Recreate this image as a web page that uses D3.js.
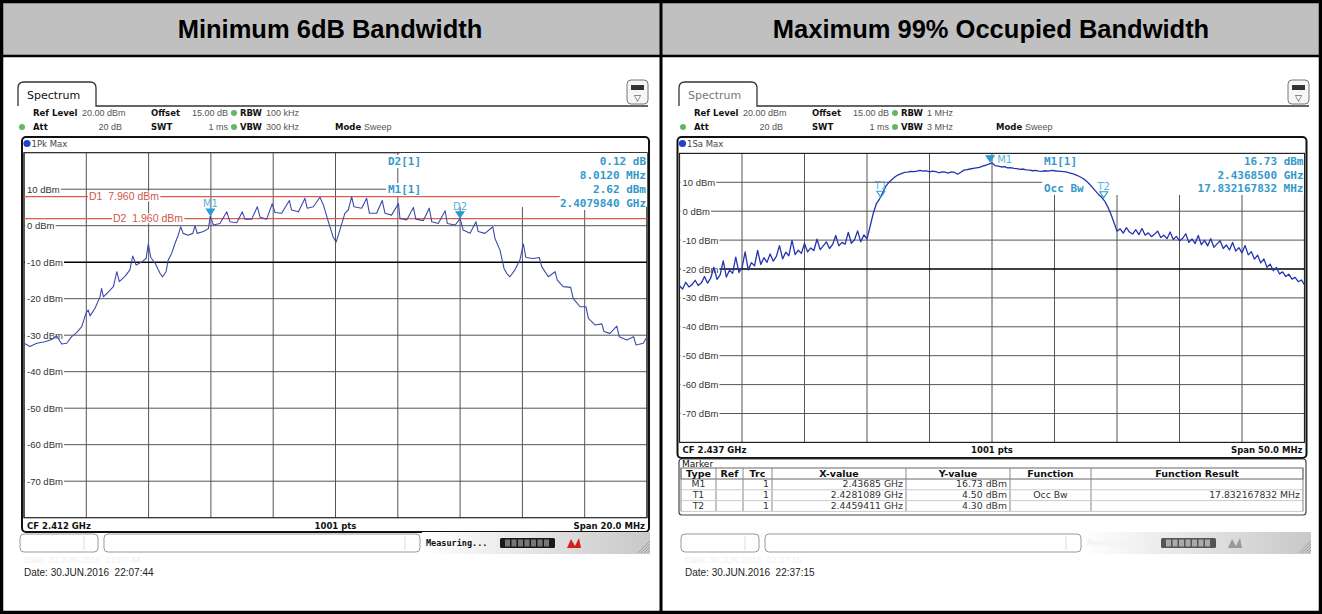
<!DOCTYPE html>
<html>
<head>
<meta charset="utf-8">
<script src="https://cdn.jsdelivr.net/npm/d3@7.9.0/dist/d3.min.js"></script>
<style>
  body { margin: 0; background: #fff; }
  svg text { font-family: "DejaVu Sans", sans-serif; }
</style>
</head>
<body>
<svg id="chart" width="1322" height="614"></svg>
<script>
// ---- values ----
const panelTitles = ["Minimum 6dB Bandwidth", "Maximum 99% Occupied Bandwidth"];

// left trace: 1Pk Max, CF 2.412 GHz, span 20 MHz (frequency in MHz, level in dBm)
const leftFreq = [
  2402.0,2402.19,2402.41,2402.67,2402.89,2403.05,2403.21,2403.37,2403.53,2403.69,
  2403.85,2403.99,2404.06,2404.12,2404.28,2404.44,2404.49,2404.55,2404.71,2404.87,
  2404.98,2405.06,2405.24,2405.40,2405.49,2405.60,2405.78,2405.92,2405.99,2406.07,
  2406.21,2406.37,2406.45,2406.56,2406.63,2406.74,2406.85,2406.95,2407.03,2407.11,
  2407.27,2407.42,2407.49,2407.56,2407.76,2407.92,2407.98,2408.08,2408.29,2408.51,
  2408.61,2408.83,2409.01,2409.09,2409.31,2409.49,2409.58,2409.79,2409.97,2410.06,
  2410.27,2410.52,2410.59,2410.81,2411.02,2411.09,2411.29,2411.50,2411.61,2411.77,
  2411.92,2412.02,2412.14,2412.30,2412.41,2412.52,2412.59,2412.84,2413.00,2413.09,
  2413.32,2413.50,2413.59,2413.80,2414.02,2414.07,2414.29,2414.50,2414.58,2414.82,
  2415.01,2415.09,2415.30,2415.52,2415.59,2415.84,2416.00,2416.10,2416.32,2416.51,
  2416.58,2416.80,2417.05,2417.12,2417.28,2417.41,2417.50,2417.60,2417.76,2417.92,
  2418.03,2418.11,2418.35,2418.54,2418.62,2418.83,2419.05,2419.12,2419.31,2419.55,
  2419.63,2419.85,2420.04,2420.12,2420.33,2420.55,2420.62,2420.81,2421.03,2421.11,
  2421.35,2421.57,2421.65,2421.88,2422.0
];
const leftLevel = [
  -32.2,-33.1,-32.2,-31.8,-31.2,-30.2,-32.4,-32.2,-30.4,-29.3,
  -27.7,-24.0,-23.1,-24.7,-22.6,-19.5,-17.2,-19.5,-18.1,-16.7,
  -12.6,-15.3,-13.9,-12.1,-8.3,-10.8,-9.9,-9.0,-5.0,-8.7,
  -10.3,-13.1,-14.0,-12.6,-9.4,-7.6,-4.8,-2.6,-0.3,-2.1,
  -2.6,-2.1,0.0,-2.1,-1.6,-0.8,2.62,0.2,0.6,3.8,
  1.1,0.8,3.8,1.8,1.8,5.2,2.3,1.8,6.0,3.6,
  3.4,6.9,4.3,3.8,7.5,4.8,5.2,7.8,5.7,1.1,
  -3.0,-4.5,-1.2,3.4,4.3,7.9,5.2,4.8,7.5,3.4,
  3.4,6.9,3.4,2.9,6.1,2.0,1.6,5.0,1.8,1.4,
  4.8,1.1,0.6,4.1,0.6,0.2,1.96,-1.2,-2.1,1.1,
  -1.6,-2.1,-0.3,-3.5,-6.7,-11.7,-13.1,-14.0,-12.1,-9.4,
  -5.0,-8.7,-9.0,-8.7,-11.2,-14.0,-12.6,-14.9,-16.7,-16.9,
  -19.9,-22.2,-22.2,-25.4,-27.2,-26.9,-29.0,-29.5,-27.5,-30.4,
  -31.3,-30.4,-32.7,-32.2,-30.4
];

// right trace: 1Sa Max, CF 2.437 GHz, span 50 MHz, read every 0.25 MHz from 2412 MHz
const rightStartMHz = 2412, rightStepMHz = 0.25;
const rightLevel = [
  -25.8,-26.9,-24.6,-26.2,-25.4,-23.9,-25.7,-24.8,-22.6,-24.9,
  -23.1,-19.4,-23.6,-22.0,-17.2,-22.8,-20.4,-21.5,-15.9,-21.2,
  -19.6,-14.1,-20.3,-17.8,-18.9,-13.6,-18.4,-16.1,-17.7,-14.8,
  -17.3,-15.6,-11.9,-16.5,-14.2,-15.4,-10.1,-15.0,-13.5,-14.6,
  -11.2,-14.1,-12.7,-13.6,-9.7,-13.3,-12.0,-10.6,-12.9,-11.5,
  -8.4,-12.0,-10.8,-11.4,-7.3,-11.1,-9.9,-6.8,-10.6,-8.2,
  -9.6,-5.2,-0.8,2.6,4.2,6.4,8.6,10.0,11.0,11.9,
  12.6,13.0,13.4,13.5,13.8,13.7,13.9,14.1,13.9,14.0,
  13.6,13.9,13.7,13.3,13.6,13.5,13.2,13.6,13.4,12.8,
  13.5,14.2,14.4,14.6,14.8,15.0,15.2,15.6,15.9,16.3,
  16.7,15.8,15.6,15.3,15.4,15.0,15.1,14.8,14.7,14.5,
  14.6,14.3,14.2,14.0,14.1,13.9,13.8,14.0,13.9,14.1,
  14.0,13.9,13.8,13.7,13.5,13.2,12.9,12.5,12.0,11.4,
  10.6,9.6,8.4,7.1,5.9,4.9,3.6,1.6,-0.9,-3.8,
  -6.9,-6.1,-7.6,-5.7,-7.2,-7.9,-6.4,-8.1,-6.0,-8.3,
  -7.5,-8.8,-8.0,-6.9,-9.1,-8.3,-9.5,-7.2,-9.8,-8.7,
  -10.3,-9.4,-7.8,-10.8,-9.6,-11.2,-8.4,-11.6,-10.1,-12.0,
  -9.5,-12.5,-11.3,-10.2,-12.9,-11.7,-13.4,-10.8,-13.8,-12.6,
  -14.4,-11.9,-15.1,-14.0,-16.6,-15.2,-17.9,-16.5,-19.4,-18.3,
  -20.6,-19.5,-21.7,-21.0,-22.6,-21.8,-23.5,-22.9,-24.4,-23.8,
  -25.4
];
const rightFreq = rightLevel.map((_, i) => rightStartMHz + i * rightStepMHz);

const levelTicks = [10, 0, -10, -20, -30, -40, -50, -60, -70];

// display lines in the left screen
const displayLines = [{ name: "D1", level: 7.96 }, { name: "D2", level: 1.96 }];

// markers (freq MHz, level dBm as drawn)
const leftMarkers = [
  { name: "M1", freq: 2407.984, level: 2.62, filled: true },
  { name: "D2", freq: 2415.996, level: 1.9, filled: true }
];
const rightMarkers = [
  { name: "M1", freq: 2436.85, level: 16.73, filled: true },
  { name: "T1", freq: 2428.1089, level: 4.50, filled: false },
  { name: "T2", freq: 2445.9411, level: 4.30, filled: false }
];

// marker table (right)
const tableHead = ["Type", "Ref", "Trc", "X-value", "Y-value", "Function", "Function Result"];
const tableType = ["M1", "T1", "T2"];
const tableTrc = ["1", "1", "1"];
const tableX = ["2.43685 GHz", "2.4281089 GHz", "2.4459411 GHz"];
const tableY = ["16.73 dBm", "4.50 dBm", "4.30 dBm"];
const tableFunc = ["", "Occ Bw", ""];
const tableResult = ["", "17.832167832 MHz", ""];

const panels = [
  {
    ox: 0, domain: [2402, 2422], freq: leftFreq, level: leftLevel,
    plot: { l: 24, r: 647, t: 152.7, b: 517.7 }, frameBottom: 532,
    rbw: "100 kHz", vbw: "300 kHz", trace: "1Pk Max", tabActive: true,
    cf: "CF 2.412 GHz", span: "Span 20.0 MHz", darkLevel: -10,
    markers: leftMarkers, date: "Date: 30.JUN.2016  22:07:44",
    box: { l: 400, t: 153, r: 647, b: 207 },
    readLeft: [["D2[1]", 165], ["M1[1]", 193]],
    readRight: [["0.12 dB", 165], ["8.0120 MHz", 179], ["2.62 dBm", 193], ["2.4079840 GHz", 207]],
    leftX: 388, measuring: true
  },
  {
    ox: 661, domain: [2412, 2462], freq: rightFreq, level: rightLevel,
    plot: { l: 679.5, r: 1304.5, t: 153.4, b: 442.4 }, frameBottom: 458,
    rbw: "1 MHz", vbw: "3 MHz", trace: "1Sa Max", tabActive: false,
    cf: "CF 2.437 GHz", span: "Span 50.0 MHz", darkLevel: -20,
    markers: rightMarkers, date: "Date: 30.JUN.2016  22:37:15",
    box: { l: 1043, t: 154, r: 1304, b: 195 },
    readLeft: [["M1[1]", 165], ["Occ Bw", 192]],
    readRight: [["16.73 dBm", 165], ["2.4368500 GHz", 179], ["17.832167832 MHz", 192]],
    leftX: 1044, measuring: false
  }
];

const svg = d3.select("#chart");
const defs = svg.append("defs");

const grad = defs.append("linearGradient").attr("id", "statusGrad")
  .attr("x1", 0).attr("x2", 1).attr("y1", 0).attr("y2", 0);
grad.append("stop").attr("offset", "0%").attr("stop-color", "#ffffff");
grad.append("stop").attr("offset", "100%").attr("stop-color", "#c8c8c8");

svg.append("rect").attr("width", 1322).attr("height", 614).attr("fill", "#fff");

// header band with the two titles
svg.append("rect").attr("x", 0).attr("y", 0).attr("width", 1322).attr("height", 56).attr("fill", "#c0c0c0");
panelTitles.forEach((t, i) => {
  svg.append("text")
    .attr("x", 330 + i * 661).attr("y", 38)
    .attr("text-anchor", "middle")
    .style("font-family", "'Liberation Sans', Arial, sans-serif")
    .style("font-weight", "bold").style("font-size", "25.5px")
    .attr("fill", "#000").text(t);
});

function drawPanel(p, idx) {
  const ox = p.ox;
  const g = svg.append("g");
  const x = d3.scaleLinear().domain(p.domain).range([p.plot.l, p.plot.r]);
  const y = d3.scaleLinear().domain([-80, 20]).range([p.plot.b, p.plot.t]);

  // Spectrum tab
  g.append("path")
    .attr("d", `M${ox + 18},106 V88 Q${ox + 18},82 ${ox + 24},82 H${ox + 90} Q${ox + 96},82 ${ox + 96},88 V106 H${ox + 648}`)
    .attr("fill", "none").attr("stroke", "#333").attr("stroke-width", 1.3);
  g.append("text").attr("x", ox + 27).attr("y", 99)
    .style("font-size", "11px").attr("fill", p.tabActive ? "#111" : "#777").text("Spectrum");

  // little icon at the right
  g.append("rect").attr("x", ox + 627).attr("y", 80).attr("width", 21).attr("height", 24).attr("rx", 4)
    .attr("fill", "#f6f6f6").attr("stroke", "#777");
  g.append("rect").attr("x", ox + 631).attr("y", 85).attr("width", 13).attr("height", 5).attr("fill", "#333");
  g.append("text").attr("x", ox + 637.5).attr("y", 101).attr("text-anchor", "middle")
    .style("font-size", "9px").attr("fill", "#333").text("▽");

  // settings rows
  const lab = (xx, yy, s, bold, anchor) => g.append("text").attr("x", xx).attr("y", yy)
    .attr("text-anchor", anchor || "start")
    .style("font-family", bold ? "'DejaVu Sans', sans-serif" : "'Liberation Sans', Arial, sans-serif")
    .style("font-size", bold ? "8.5px" : "9px").style("font-weight", bold ? "bold" : "normal")
    .attr("fill", bold ? "#111" : "#555").text(s);
  const dot = (xx, yy) => g.append("circle").attr("cx", xx).attr("cy", yy).attr("r", 3).attr("fill", "#62b862");
  lab(ox + 33, 116, "Ref Level", true);
  lab(ox + 82, 116, "20.00 dBm");
  lab(ox + 151, 116, "Offset", true);
  lab(ox + 192, 116, "15.00 dB");
  dot(ox + 234, 113);
  lab(ox + 240, 116, "RBW", true);
  lab(ox + 266, 116, p.rbw);
  dot(ox + 22, 127);
  lab(ox + 33, 130, "Att", true);
  lab(ox + 122, 130, "20 dB", false, "end");
  lab(ox + 151, 130, "SWT", true);
  lab(ox + 228, 130, "1 ms", false, "end");
  dot(ox + 234, 127);
  lab(ox + 240, 130, "VBW", true);
  lab(ox + 266, 130, p.vbw);
  lab(ox + 335, 130, "Mode", true);
  lab(ox + 364, 130, "Sweep");

  // frame of the diagram window
  const fl = p.plot.l - 2, fr = p.plot.r + 2;
  g.append("rect").attr("x", fl).attr("y", 137).attr("width", fr - fl).attr("height", p.frameBottom - 137)
    .attr("rx", 4).attr("fill", "#fff").attr("stroke", "#111").attr("stroke-width", 2);
  g.append("circle").attr("cx", fl + 5).attr("cy", 143.5).attr("r", 3.6).attr("fill", "#2040d0");
  g.append("text").attr("x", fl + 9.5).attr("y", 147).style("font-size", "8.5px").attr("fill", "#444").text(p.trace);

  // grid
  const grid = g.append("g");
  const vTicks = d3.range(0, 11).map(k => p.domain[0] + k * (p.domain[1] - p.domain[0]) / 10);
  grid.selectAll("line.v").data(vTicks).join("line")
    .attr("x1", d => x(d)).attr("x2", d => x(d))
    .attr("y1", p.plot.t).attr("y2", p.plot.b)
    .attr("stroke", "#555").attr("stroke-width", 1);
  grid.selectAll("line.h").data(levelTicks).join("line")
    .attr("x1", p.plot.l).attr("x2", p.plot.r)
    .attr("y1", d => y(d)).attr("y2", d => y(d))
    .attr("stroke", d => d === p.darkLevel ? "#000" : "#555")
    .attr("stroke-width", d => d === p.darkLevel ? 1.4 : 1);
  grid.append("rect").attr("x", p.plot.l).attr("y", p.plot.t)
    .attr("width", p.plot.r - p.plot.l).attr("height", p.plot.b - p.plot.t)
    .attr("fill", "none").attr("stroke", "#222").attr("stroke-width", 1.2);

  // y labels with white background
  levelTicks.forEach(d => {
    const t = g.append("text").attr("x", p.plot.l + 3).attr("y", y(d) + 3.5)
      .style("font-family", "'Liberation Sans', Arial, sans-serif")
      .style("font-size", "9.5px").attr("fill", "#333").text(`${d} dBm`);
    const bb = t.node().getBBox();
    g.insert("rect", () => t.node()).attr("x", p.plot.l + 1).attr("y", bb.y)
      .attr("width", bb.width + 3).attr("height", bb.height).attr("fill", "#fff");
  });

  // marker readout box
  g.append("rect").attr("x", p.box.l).attr("y", p.box.t)
    .attr("width", p.box.r - p.box.l).attr("height", p.box.b - p.box.t).attr("fill", "#fff");

  // display lines (left screen only)
  if (idx === 0) {
    displayLines.forEach((dl, k) => {
      g.append("line").attr("x1", p.plot.l).attr("x2", k === 0 ? 560 : p.plot.r)
        .attr("y1", y(dl.level)).attr("y2", y(dl.level))
        .attr("stroke", "#e05a50").attr("stroke-width", 1.2);
      const t = g.append("text").attr("x", k === 0 ? 89 : 113).attr("y", y(dl.level) + 3.8)
        .style("font-family", "'Liberation Sans', Arial, sans-serif")
        .style("font-size", "10.5px").attr("fill", "#d0564a")
        .attr("xml:space", "preserve").text(`${dl.name}  ${dl.level.toFixed(3)} dBm`);
      const bb = t.node().getBBox();
      g.insert("rect", () => t.node()).attr("x", bb.x - 1).attr("y", bb.y + 1)
        .attr("width", bb.width + 2).attr("height", bb.height - 2).attr("fill", "#fff");
    });
  }

  // trace
  const clipId = "clip" + idx;
  defs.append("clipPath").attr("id", clipId).append("rect")
    .attr("x", p.plot.l).attr("y", p.plot.t).attr("width", p.plot.r - p.plot.l).attr("height", p.plot.b - p.plot.t);
  const line = d3.line().x(d => x(d[0])).y(d => y(d[1]));
  g.append("path").datum(d3.zip(p.freq, p.level))
    .attr("clip-path", `url(#${clipId})`)
    .attr("d", line).attr("fill", "none")
    .attr("stroke", idx === 0 ? "#3c4aaa" : "#2434b0")
    .attr("stroke-width", idx === 0 ? 1.1 : 1.3)
    .attr("stroke-linejoin", "round");

  // markers
  p.markers.forEach(m => {
    const mx = x(m.freq), my = y(m.level);
    const tip = Math.max(my - 1, p.plot.t + 7);
    g.append("path")
      .attr("d", `M${mx - 4},${tip - 6} L${mx + 4},${tip - 6} L${mx},${tip} Z`)
      .attr("fill", m.filled ? "#2a9bd0" : "none")
      .attr("stroke", "#2a9bd0").attr("stroke-width", 1.1);
    const atTop = tip - 6 < p.plot.t + 8;
    g.append("text")
      .attr("x", atTop ? mx + 7 : mx).attr("y", atTop ? tip + 1 : tip - 8)
      .attr("text-anchor", atTop ? "start" : "middle")
      .style("font-size", "10px").attr("fill", "#56b4dc").text(m.name);
  });

  // readout text
  const roStyle = t => t.style("font-family", "'DejaVu Sans Mono', monospace").style("font-weight", "bold")
    .style("font-size", "11px").attr("fill", "#3399cc");
  p.readLeft.forEach(([s, yy]) => {
    const t = roStyle(g.append("text").attr("x", p.leftX).attr("y", yy).text(s));
    const bb = t.node().getBBox();
    g.insert("rect", () => t.node()).attr("x", bb.x - 2).attr("y", bb.y)
      .attr("width", bb.width + 4).attr("height", bb.height).attr("fill", "#fff");
  });
  p.readRight.forEach(([s, yy]) => {
    const t = roStyle(g.append("text").attr("x", p.plot.r - 1).attr("y", yy).attr("text-anchor", "end").text(s));
    const bb = t.node().getBBox();
    g.insert("rect", () => t.node()).attr("x", bb.x - 2).attr("y", bb.y)
      .attr("width", bb.width + 2).attr("height", bb.height).attr("fill", "#fff");
  });

  // CF / pts / span row
  const cfY = p.plot.b + 11;
  const cfStyle = t => t.style("font-family", "'DejaVu Sans', sans-serif").style("font-weight", "bold")
    .style("font-size", "8.5px").attr("fill", "#111");
  cfStyle(g.append("text").attr("x", p.plot.l + 3).attr("y", cfY).text(p.cf));
  cfStyle(g.append("text").attr("x", (p.plot.l + p.plot.r) / 2).attr("y", cfY).attr("text-anchor", "middle").text("1001 pts"));
  cfStyle(g.append("text").attr("x", p.plot.r - 2).attr("y", cfY).attr("text-anchor", "end").text(p.span));

  // status bar
  const sb = 534;
  g.append("rect").attr("x", ox + 20).attr("y", sb).attr("width", 78).attr("height", 18).attr("rx", 4)
    .attr("fill", "#fff").attr("stroke", "#999");
  g.append("line").attr("x1", ox + 84).attr("x2", ox + 84).attr("y1", sb + 2).attr("y2", sb + 16).attr("stroke", "#ddd");
  g.append("rect").attr("x", ox + 104).attr("y", sb).attr("width", 316).attr("height", 18).attr("rx", 4)
    .attr("fill", "#fff").attr("stroke", "#999");
  g.append("line").attr("x1", ox + 405).attr("x2", ox + 405).attr("y1", sb + 2).attr("y2", sb + 16).attr("stroke", "#ddd");
  g.append("rect").attr("x", ox + 422).attr("y", sb - 2).attr("width", 228).attr("height", 22).attr("fill", "url(#statusGrad)");
  g.append("text").attr("x", ox + 426).attr("y", sb + 12)
    .style("font-family", "'DejaVu Sans Mono', monospace").style("font-weight", "bold").style("font-size", "8.5px")
    .attr("fill", p.measuring ? "#111" : "#f2f2f2").text("Measuring...");
  g.append("rect").attr("x", ox + 500).attr("y", sb + 4).attr("width", 55).attr("height", 10).attr("rx", 1.5)
    .attr("fill", p.measuring ? "#1a1a1a" : "#555");
  d3.range(7).forEach(k => g.append("rect").attr("x", ox + 505 + k * 6.5).attr("y", sb + 5.5)
    .attr("width", 5).attr("height", 7).attr("fill", p.measuring ? "#777" : "#aaa"));
  g.append("path").attr("d", `M${ox + 567},${sb + 14} L${ox + 571},${sb + 5} L${ox + 575},${sb + 12} L${ox + 579},${sb + 4} L${ox + 581},${sb + 14} Z`)
    .attr("fill", p.measuring ? "#d42020" : "#999");
  d3.range(4).forEach(k => g.append("line")
    .attr("x1", ox + 638 + k * 3).attr("y1", sb + 19).attr("x2", ox + 650).attr("y2", sb + 7 + k * 3)
    .attr("stroke", "#999").attr("stroke-width", 0.8));

  // faint ghost line and date
  g.append("text").attr("x", ox + 24).attr("y", 563)
    .style("font-family", "'Liberation Sans', Arial, sans-serif").style("font-size", "9px")
    .attr("fill", "#f0f0f0").attr("xml:space", "preserve").text(p.date);
  g.append("text").attr("x", ox + 24).attr("y", 576)
    .style("font-family", "'Liberation Sans', Arial, sans-serif").style("font-size", "10px")
    .attr("fill", "#222").attr("xml:space", "preserve").text(p.date);
}

panels.forEach(drawPanel);

// marker table under the right diagram
(function drawTable() {
  const g = svg.append("g");
  const cols = [681, 716, 743, 772, 906, 1010, 1091, 1303];
  g.append("rect").attr("x", 679).attr("y", 459).attr("width", 627).attr("height", 56).attr("rx", 3)
    .attr("fill", "#fff").attr("stroke", "#444").attr("stroke-width", 1.2);
  g.append("text").attr("x", 682).attr("y", 467).style("font-size", "9px").attr("fill", "#111").text("Marker");
  const hy0 = 468, hy1 = 479, rh = 10.8;
  g.append("rect").attr("x", cols[0]).attr("y", hy0).attr("width", cols[7] - cols[0]).attr("height", hy1 - hy0)
    .attr("fill", "#fff").attr("stroke", "#666");
  tableHead.forEach((h, i) => {
    g.append("text").attr("x", (cols[i] + cols[i + 1]) / 2).attr("y", hy1 - 2).attr("text-anchor", "middle")
      .style("font-size", "9.5px").style("font-weight", "bold").attr("fill", "#111").text(h);
    if (i > 0) g.append("line").attr("x1", cols[i]).attr("x2", cols[i]).attr("y1", hy0).attr("y2", hy1 + rh * 3)
      .attr("stroke", "#888");
  });
  tableType.forEach((tp, r) => {
    const yy = hy1 + rh * (r + 1);
    g.append("line").attr("x1", cols[0]).attr("x2", cols[7]).attr("y1", yy).attr("y2", yy).attr("stroke", "#ccc");
    const cell = (xx, s, anchor) => g.append("text").attr("x", xx).attr("y", yy - 2.4).attr("text-anchor", anchor)
      .style("font-size", "9.3px").attr("fill", "#333").text(s);
    cell((cols[0] + cols[1]) / 2, tp, "middle");
    cell(cols[3] - 3, tableTrc[r], "end");
    cell(cols[4] - 3, tableX[r], "end");
    cell(cols[5] - 3, tableY[r], "end");
    cell((cols[5] + cols[6]) / 2, tableFunc[r], "middle");
    cell(cols[7] - 3, tableResult[r], "end");
  });
  g.append("line").attr("x1", cols[0]).attr("x2", cols[0]).attr("y1", hy0).attr("y2", hy1 + rh * 3).attr("stroke", "#888");
  g.append("line").attr("x1", cols[7]).attr("x2", cols[7]).attr("y1", hy0).attr("y2", hy1 + rh * 3).attr("stroke", "#888");
})();

// outer borders
svg.append("line").attr("x1", 0).attr("x2", 1322).attr("y1", 56).attr("y2", 56).attr("stroke", "#000").attr("stroke-width", 2.5);
svg.append("line").attr("x1", 661).attr("x2", 661).attr("y1", 0).attr("y2", 614).attr("stroke", "#000").attr("stroke-width", 3);
svg.append("rect").attr("x", 1.5).attr("y", 1.5).attr("width", 1319).attr("height", 611)
  .attr("fill", "none").attr("stroke", "#000").attr("stroke-width", 3.5);
</script>
</body>
</html>
